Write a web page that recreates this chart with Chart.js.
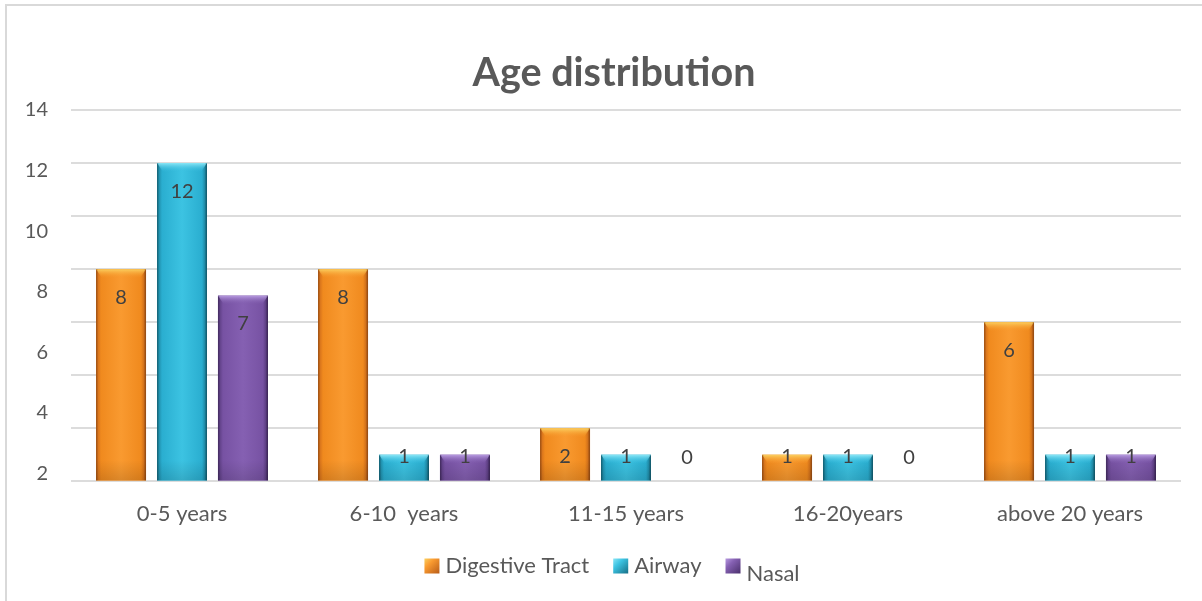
<!DOCTYPE html>
<html>
<head>
<meta charset="utf-8">
<title>Age distribution</title>
<script src="https://cdn.jsdelivr.net/npm/chart.js@4/dist/chart.umd.min.js"></script>
<style>
  html, body { margin: 0; padding: 0; background: #fff; overflow: hidden; }
  #frame { position: absolute; left: 5px; top: 4px; width: 1260px; height: 660px; border: 2px solid #d9d9d9; }
  #wrap { position: absolute; left: 0; top: 0; width: 1202px; height: 601px; }
</style>
</head>
<body>
<div id="frame"></div>
<div id="wrap"><canvas id="c" width="1202" height="601"></canvas></div>
<script>
// Age groups and case counts per site
const categories = ['0-5 years', '6-10  years', '11-15 years', '16-20years', 'above 20 years'];
const digestiveTract = [8, 8, 2, 1, 6];
const airway = [12, 1, 1, 1, 1];
const nasal = [7, 1, 0, 0, 1];
const yTickLabels = [2, 4, 6, 8, 10, 12, 14];
const seriesNames = ['Digestive Tract', 'Airway', 'Nasal'];
const chartTitle = 'Age distribution';

const FONT = 'Lato, "Open Sans", sans-serif';
const TEXT = '#595959';

// shading for the bevelled bars
const palettes = [
  { edge: '#c9661a', main: '#f08a1e', light: '#f99a30', dark: '#b85c18', top: '#fbd060', topFade: 'rgba(247,150,40,0)' },
  { edge: '#1a7d96', main: '#2aaed0', light: '#3cc3e2', dark: '#176f86', top: '#8ae6f6', topFade: 'rgba(50,185,220,0)' },
  { edge: '#55387a', main: '#7752a3', light: '#8560b2', dark: '#4a306c', top: '#b79ae0', topFade: 'rgba(125,90,170,0)' }
];

const barLook = {
  id: 'barLook',
  afterDatasetsDraw(chart) {
    const ctx = chart.ctx;
    ctx.save();
    chart.data.datasets.forEach((ds, di) => {
      const meta = chart.getDatasetMeta(di);
      const pal = palettes[di];
      meta.data.forEach((el, i) => {
        if (!ds.data[i]) return;
        const p = el.getProps(['x', 'y', 'base', 'width'], true);
        const l = p.x - p.width / 2, w = p.width, top = p.y, h = p.base - p.y;
        const g = ctx.createLinearGradient(l, 0, l + w, 0);
        g.addColorStop(0, pal.edge);
        g.addColorStop(0.1, pal.main);
        g.addColorStop(0.5, pal.light);
        g.addColorStop(0.9, pal.main);
        g.addColorStop(1, pal.dark);
        ctx.fillStyle = g;
        ctx.fillRect(l, top, w, h);
        // darker foot of the bar
        const f = Math.min(20, h);
        const fg = ctx.createLinearGradient(0, p.base - f, 0, p.base);
        fg.addColorStop(0, 'rgba(0,0,0,0)');
        fg.addColorStop(1, 'rgba(0,0,0,0.12)');
        ctx.fillStyle = fg;
        ctx.fillRect(l, p.base - f, w, f);
        // top bevel
        const b = Math.min(9, h * 0.45);
        const tg = ctx.createLinearGradient(0, top, 0, top + b);
        tg.addColorStop(0, pal.top);
        tg.addColorStop(1, pal.topFade);
        ctx.fillStyle = tg;
        ctx.beginPath();
        ctx.moveTo(l, top);
        ctx.lineTo(l + w, top);
        ctx.lineTo(l + w - 6, top + b);
        ctx.lineTo(l + 6, top + b);
        ctx.closePath();
        ctx.fill();
        // thin dark side edges
        ctx.fillStyle = 'rgba(0,0,0,0.18)';
        ctx.fillRect(l, top, 1.5, h);
        ctx.fillRect(l + w - 1.5, top, 1.5, h);
      });
    });
    ctx.restore();
  }
};

// value labels just inside the bar tops, kept clear of the axis line
const valueLabels = {
  id: 'valueLabels',
  afterDatasetsDraw(chart) {
    const ctx = chart.ctx;
    ctx.save();
    ctx.font = '20px ' + FONT;
    ctx.fillStyle = '#404040';
    ctx.textAlign = 'center';
    ctx.textBaseline = 'middle';
    chart.data.datasets.forEach((ds, di) => {
      const meta = chart.getDatasetMeta(di);
      meta.data.forEach((el, i) => {
        const p = el.getProps(['x', 'y', 'base'], true);
        const ly = Math.min(p.y + 28, p.base - 24);
        ctx.fillText(String(ds.data[i]), p.x, ly);
      });
    });
    ctx.restore();
  }
};

// heading above the plot
const heading = {
  id: 'heading',
  afterDraw(chart) {
    const ctx = chart.ctx;
    const a = chart.chartArea;
    ctx.save();
    ctx.font = 'bold 39.5px ' + FONT;
    ctx.fillStyle = TEXT;
    ctx.textAlign = 'center';
    ctx.textBaseline = 'middle';
    ctx.fillText(chartTitle, (a.left + a.right) / 2 - 12, a.top - 37);
    ctx.restore();
  }
};

// legend row under the axis
const legendRow = {
  id: 'legendRow',
  afterDraw(chart) {
    const ctx = chart.ctx;
    ctx.save();
    ctx.font = '22px ' + FONT;
    ctx.textBaseline = 'middle';
    const box = 15, gapBox = 6, gapItem = 24, cy = 566;
    const drops = [0, 0, 8];
    const widths = seriesNames.map(n => ctx.measureText(n).width);
    const total = widths.reduce((a, b) => a + b, 0) + seriesNames.length * (box + gapBox) + gapItem * (seriesNames.length - 1);
    let x = 612 - total / 2;
    seriesNames.forEach((name, i) => {
      const pal = palettes[i];
      const g = ctx.createLinearGradient(x, cy - box / 2, x + box, cy + box / 2);
      g.addColorStop(0, pal.top);
      g.addColorStop(0.35, pal.light);
      g.addColorStop(1, pal.dark);
      ctx.fillStyle = g;
      ctx.fillRect(x, cy - box / 2, box, box);
      x += box + gapBox;
      ctx.fillStyle = TEXT;
      ctx.fillText(name, x, cy + drops[i]);
      x += widths[i] + gapItem;
    });
    ctx.restore();
  }
};

new Chart(document.getElementById('c'), {
  type: 'bar',
  data: {
    labels: categories,
    datasets: [
      { label: seriesNames[0], data: digestiveTract, backgroundColor: palettes[0].main, borderWidth: 0 },
      { label: seriesNames[1], data: airway, backgroundColor: palettes[1].main, borderWidth: 0 },
      { label: seriesNames[2], data: nasal, backgroundColor: palettes[2].main, borderWidth: 0 }
    ]
  },
  options: {
    responsive: false,
    animation: false,
    events: [],
    layout: { padding: { left: 0, right: 21, top: 110, bottom: 53.6 } },
    datasets: { bar: { categoryPercentage: 0.824, barPercentage: 0.82 } },
    plugins: {
      legend: { display: false },
      tooltip: { enabled: false },
      title: { display: false }
    },
    scales: {
      x: {
        grid: { display: false, drawTicks: false },
        border: { display: false },
        ticks: { color: TEXT, font: { family: FONT, size: 22 }, padding: 19.8, maxRotation: 0, autoSkip: false }
      },
      y: {
        min: 0, max: 14,
        grid: { color: '#dcdcdc', lineWidth: 2, drawTicks: false },
        border: { display: false },
        ticks: { display: false, stepSize: 2 },
        afterFit(s) { s.width = 0; }
      },
      yl: {
        position: 'left',
        min: 1.7355, max: 14,
        grid: { display: false, drawTicks: false },
        border: { display: false },
        afterBuildTicks(s) { s.ticks = yTickLabels.map(v => ({ value: v })); },
        ticks: { color: TEXT, font: { family: FONT, size: 20 }, padding: 23, autoSkip: false },
        afterFit(s) { s.width = 71; }
      }
    }
  },
  plugins: [barLook, valueLabels, heading, legendRow]
});
</script>
</body>
</html>
